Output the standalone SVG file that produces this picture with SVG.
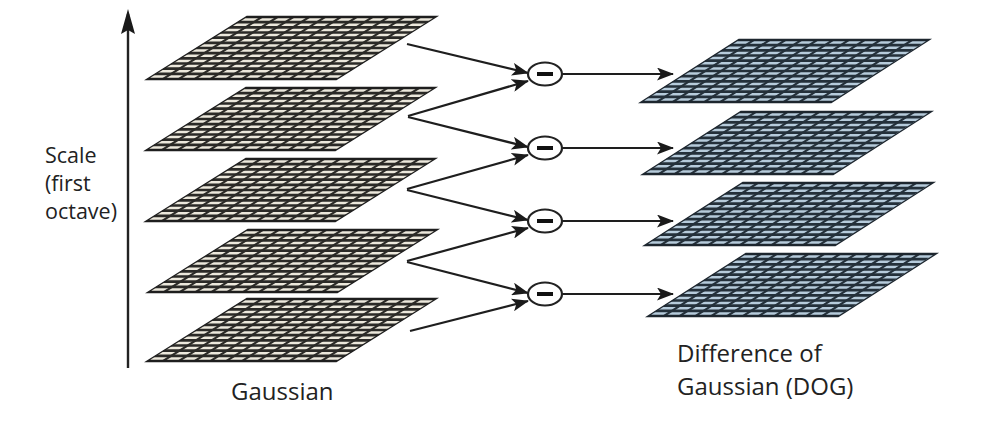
<svg xmlns="http://www.w3.org/2000/svg" xmlns:xlink="http://www.w3.org/1999/xlink" width="1003" height="421" viewBox="0 0 1003 421">
<style>
.lbl{font-family:"Open Sans","Liberation Sans",sans-serif;fill:#222}
.arr{stroke:#1e1e1e;stroke-width:2.2;fill:none}
.minus-c{fill:#fff;stroke:#222;stroke-width:2.2}
.minus-b{stroke:#111;stroke-width:4}
</style>
<defs>
<marker id="ah" markerUnits="userSpaceOnUse" markerWidth="17" markerHeight="13" refX="16" refY="6.5" orient="auto">
<path d="M0,0 L17,6.5 L0,13 L4,6.5 Z" fill="#1a1a1a"/>
</marker>
<g id="gridlines">
<path d="M15.83,0V62M31.67,0V62M47.5,0V62M63.33,0V62M79.17,0V62M95,0V62M110.83,0V62M126.67,0V62M142.5,0V62M158.33,0V62M174.17,0V62" stroke-width="4"/>
<path d="M0,5.17H190M0,10.33H190M0,15.5H190M0,20.67H190M0,25.83H190M0,31H190M0,36.17H190M0,41.33H190M0,46.5H190M0,51.67H190M0,56.83H190" stroke-width="2.6"/>
</g>
<g id="gplane">
<rect x="0" y="0" width="190" height="62" fill="#ece8dc"/>
<use xlink:href="#gridlines" href="#gridlines" stroke="#2b2a27"/>
<rect x="0" y="0" width="190" height="62" fill="none" stroke="#1e1e1e" stroke-width="2.4"/>
</g>
<g id="dplane">
<rect x="0" y="0" width="191" height="62" fill="#b6cbdb"/>
<use xlink:href="#gridlines" href="#gridlines" stroke="#24303a"/>
<rect x="0" y="0" width="191" height="62" fill="none" stroke="#1d262e" stroke-width="2.4"/>
</g>
</defs>
<rect width="1003" height="421" fill="#fff"/>

<g id="axis">
<line x1="128" y1="368" x2="128" y2="14" stroke="#222" stroke-width="2.4"/>
<path d="M128,9 L135,34 L128,30 L121,34 Z" fill="#1a1a1a"/>
</g>

<g id="gauss1" transform="translate(246,17) skewX(-57.9)"><use xlink:href="#gplane" href="#gplane"/></g>
<g id="gauss2" transform="translate(245,88) skewX(-57.9)"><use xlink:href="#gplane" href="#gplane"/></g>
<g id="gauss3" transform="translate(245,159) skewX(-57.9)"><use xlink:href="#gplane" href="#gplane"/></g>
<g id="gauss4" transform="translate(247,230) skewX(-57.9)"><use xlink:href="#gplane" href="#gplane"/></g>
<g id="gauss5" transform="translate(246,299) skewX(-57.9)"><use xlink:href="#gplane" href="#gplane"/></g>

<g id="dog1" transform="translate(738,40) skewX(-57.4)"><use xlink:href="#dplane" href="#dplane"/></g>
<g id="dog2" transform="translate(740,112) skewX(-57.4)"><use xlink:href="#dplane" href="#dplane"/></g>
<g id="dog3" transform="translate(742,183) skewX(-57.4)"><use xlink:href="#dplane" href="#dplane"/></g>
<g id="dog4" transform="translate(745,254) skewX(-57.4)"><use xlink:href="#dplane" href="#dplane"/></g>

<g id="connectors">
<line class="arr" x1="407" y1="44" x2="528" y2="73" marker-end="url(#ah)"/>
<line class="arr" x1="408" y1="116" x2="528" y2="81" marker-end="url(#ah)"/>
<line class="arr" x1="408" y1="117" x2="528" y2="147" marker-end="url(#ah)"/>
<line class="arr" x1="407" y1="189" x2="528" y2="155" marker-end="url(#ah)"/>
<line class="arr" x1="407" y1="190" x2="528" y2="220" marker-end="url(#ah)"/>
<line class="arr" x1="407" y1="261" x2="528" y2="228" marker-end="url(#ah)"/>
<line class="arr" x1="407" y1="262" x2="528" y2="293" marker-end="url(#ah)"/>
<line class="arr" x1="410" y1="331" x2="528" y2="301" marker-end="url(#ah)"/>
<line class="arr" x1="562" y1="74" x2="673" y2="74" marker-end="url(#ah)"/>
<line class="arr" x1="562" y1="148" x2="673" y2="148" marker-end="url(#ah)"/>
<line class="arr" x1="562" y1="221" x2="673" y2="221" marker-end="url(#ah)"/>
<line class="arr" x1="562" y1="294" x2="673" y2="294" marker-end="url(#ah)"/>
</g>

<g id="minus1"><ellipse class="minus-c" cx="545" cy="74" rx="17" ry="11.5"/><line class="minus-b" x1="537" y1="74" x2="553" y2="74"/></g>
<g id="minus2"><ellipse class="minus-c" cx="545" cy="148" rx="17" ry="11.5"/><line class="minus-b" x1="537" y1="148" x2="553" y2="148"/></g>
<g id="minus3"><ellipse class="minus-c" cx="545" cy="221" rx="17" ry="11.5"/><line class="minus-b" x1="537" y1="221" x2="553" y2="221"/></g>
<g id="minus4"><ellipse class="minus-c" cx="545" cy="294" rx="17" ry="11.5"/><line class="minus-b" x1="537" y1="294" x2="553" y2="294"/></g>

<g id="labels">
<text class="lbl" x="45" y="163" font-size="21.5">Scale</text>
<text class="lbl" x="45" y="191" font-size="21.5">(first</text>
<text class="lbl" x="45" y="219" font-size="21.5">octave)</text>
<text class="lbl" x="231" y="400" font-size="24">Gaussian</text>
<text class="lbl" x="677" y="362" font-size="24">Difference of</text>
<text class="lbl" x="677" y="395" font-size="24">Gaussian (DOG)</text>
</g>
</svg>
